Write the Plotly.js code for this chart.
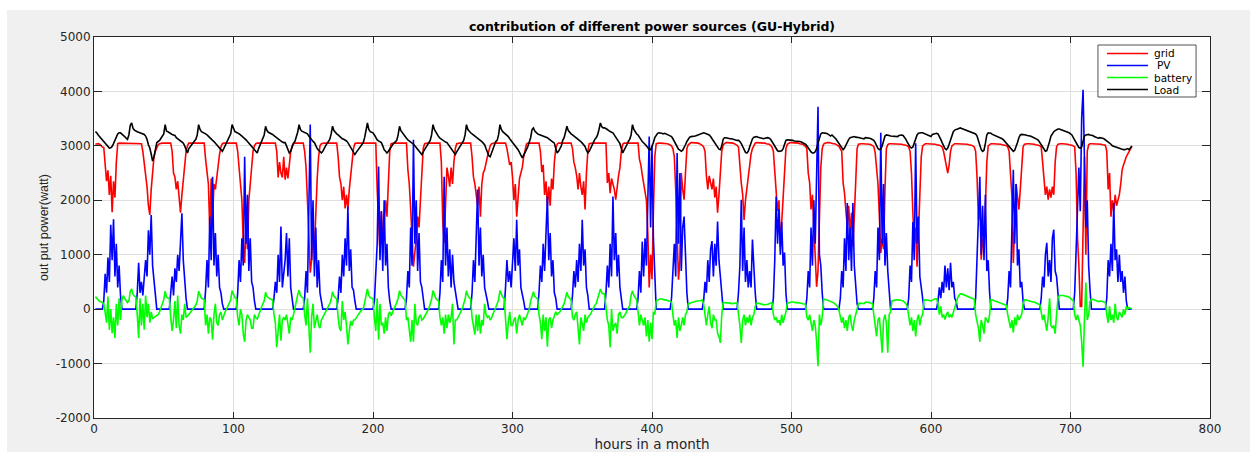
<!DOCTYPE html>
<html>
<head>
<meta charset="utf-8">
<script src="https://cdn.plot.ly/plotly-3.0.1.min.js"></script>
<style>
  html, body { margin: 0; padding: 0; background: #ffffff; }
  #chart { position: absolute; left: 7px; top: 10px; width: 1243px; height: 442px; }
</style>
</head>
<body>
<div id="chart"></div>
<script>
// ---- data (hourly values, hours 1..744) ----
const chartTitle = 'contribution of different power sources (GU-Hybrid)';
const xLabel = 'hours in a month';
const yLabel = 'out put power(watt)';
const seriesNames = ['grid', 'PV', 'battery', 'Load'];
const xTicks = [0, 100, 200, 300, 400, 500, 600, 700, 800];
const yTicks = [-2000, -1000, 0, 1000, 2000, 3000, 4000, 5000];

const gridPower = [
3030,3040,3040,3030,3000,2980,2970,2600,2350,2550,2100,2450,1780,2350,2050,2700,3040,3050,3050,3050,3050,3050,3050,3050,
3050,3050,3050,3050,3050,3050,3050,3050,3050,3040,2900,2700,2450,2250,1900,1730,2200,2600,2800,2900,2960,3020,3040,3050,
3050,3050,3050,3050,3050,3050,3050,2900,2500,2430,2200,2350,2000,1770,2100,2400,2700,2900,3000,3050,3050,3050,3050,3050,
3050,3050,3050,3050,3050,3050,3050,2750,2450,2300,1450,2400,1700,2300,2200,2450,2600,2850,2980,3040,3050,3050,3050,3050,
3050,3050,3050,3050,3050,3050,2900,2500,2300,2000,1200,850,1600,1100,2000,2300,2700,2900,3000,3040,3050,3050,3050,3050,
3050,3050,3050,3050,3050,3050,3050,3050,3050,3050,2900,2420,2700,2500,2420,2800,2380,2600,2400,2700,2900,3000,3040,3050,
3050,3050,3050,3050,3050,3050,2900,2600,2000,1200,670,900,1400,1100,1900,2400,2800,3000,3040,3050,3050,3050,3050,3050,
3050,3050,3050,3050,3050,3050,2800,2430,2300,2000,2250,1850,2100,1830,2200,2400,2700,2950,3040,3050,3050,3050,3050,3050,
3050,3050,3050,3050,3050,3050,3050,3050,3050,3050,2200,1500,1040,1800,1300,1600,2000,1700,2400,2900,3040,3050,3050,3050,
3050,3050,3050,3050,3050,3050,3050,3050,2560,2300,1840,1400,780,1040,1300,1700,1500,2000,2600,2950,3040,3050,3050,3050,
3050,3050,3050,3050,3050,3050,3050,3050,2700,1600,1220,2000,2600,2450,2250,2600,2300,2700,2950,3040,3050,3050,3050,3050,
3050,3050,3050,3050,3050,3050,2800,2430,2300,2100,1900,2250,1700,2300,2500,2560,2700,2800,2900,3000,3040,3050,3050,3050,
3050,3050,3050,3050,3050,3050,3050,2950,2750,2650,2700,2430,2000,2300,1700,2100,2400,2500,2600,2800,2950,3030,3050,3050,
3050,3050,3050,3050,3050,3050,3050,2900,2520,2650,2100,2350,1890,2250,1900,2400,2200,2700,2950,3030,3050,3050,3050,3050,
3050,3050,3050,3050,3050,3050,2950,2700,2600,2450,2200,2500,2250,2100,2350,1830,2500,2900,3040,3050,3050,3050,3050,3050,
3050,3050,3050,3050,3050,3050,3050,2320,2500,2130,2400,2300,2200,2010,2300,2450,2600,2900,3030,3050,3050,3050,3050,3050,
3050,3050,3050,3050,3050,3050,2750,2650,2470,2300,2200,2000,1400,400,1000,550,1800,2800,3040,3050,3050,3050,3050,3050,
3050,3050,3040,3030,3020,3000,2950,2800,2200,1150,540,900,2500,2200,2010,2500,2950,3020,3050,3060,3060,3060,3060,3050,
3050,3040,3030,3010,2980,2900,2450,2200,2450,2300,2200,2400,2050,2250,1770,2100,2500,2900,3020,3050,3060,3060,3060,3060,
3060,3050,3040,3030,3010,2980,2600,2320,2100,1640,2000,2200,2500,2700,2850,2950,3020,3050,3060,3060,3060,3060,3050,3050,
3050,3040,3040,3030,3010,2980,2900,2500,2200,1800,2000,1150,1600,2000,2600,2950,3030,3050,3060,3060,3060,3060,3050,3050,
3050,3040,3040,3030,3010,2990,2950,2500,2320,1830,2100,1500,780,410,700,1600,2600,2950,3030,3050,3060,3060,3060,3050,
3050,3040,3040,3030,3010,2990,2950,2900,2320,2130,1800,1520,1900,1400,1770,1150,1700,2400,2950,3030,3040,3040,3040,3040,
3040,3040,3030,3030,3020,3010,2990,2870,2620,2300,1700,1030,1300,1100,2200,2950,3020,3040,3040,3040,3040,3040,3040,3030,
3030,3030,3030,3020,3020,3010,3000,2980,2900,2500,1770,1200,1500,780,1400,2200,2800,3000,3030,3040,3040,3040,3040,3030,
3030,3030,3030,3020,3020,3010,3000,2980,2900,2750,2600,2500,2650,2900,3000,3030,3040,3040,3040,3040,3040,3030,3030,3030,
3030,3030,3020,3020,3010,3000,2980,2900,2430,1640,2000,910,1300,1100,1800,2700,3000,3030,3040,3040,3040,3040,3030,3030,
3030,3030,3020,3020,3010,3000,2980,2900,2560,2070,850,1500,2300,2070,1830,2200,2700,2980,3030,3040,3040,3040,3040,3030,
3030,3030,3020,3020,3010,3000,2980,2700,2380,2100,2250,2010,2200,2050,2250,2100,2700,2980,3030,3040,3040,3040,3040,3030,
3030,3030,3020,3020,3010,3000,2980,2500,1330,800,50,50,1600,2800,1000,2900,3020,3040,3040,3040,3040,3040,3030,3030,
3030,3030,3020,3020,3010,2900,2200,2500,1700,2000,1800,2100,1900,2000,2100,2300,2560,2650,2750,2800,2850,2900,2950,2990
];

const pvPower = [
0,0,0,0,0,0,150,650,300,950,500,1550,900,1650,600,1200,400,800,250,0,0,0,0,0,
0,0,0,0,0,0,300,850,300,500,250,650,900,600,1450,1000,1730,800,500,150,0,0,0,0,
0,0,0,0,0,0,300,600,250,750,500,1000,700,1400,1760,900,500,200,0,0,0,0,0,0,
0,0,0,0,0,0,0,350,900,400,1700,900,2430,800,1400,600,1000,400,300,100,0,0,0,0,
0,0,0,0,0,0,300,900,500,1300,800,2800,1200,2100,700,1300,500,400,150,0,0,0,0,0,
0,0,0,0,0,0,0,0,200,500,300,1000,500,1520,400,700,900,1400,600,1300,400,200,0,0,
0,0,0,0,0,0,200,700,300,1700,3390,900,2000,600,1500,400,900,300,100,0,0,0,0,0,
0,0,0,0,0,0,200,600,300,1000,600,1300,800,1880,700,1100,400,350,150,0,0,0,0,0,
0,0,0,0,0,0,0,0,150,600,1200,2620,900,1800,700,2000,800,1200,400,150,0,0,0,0,
0,0,0,0,0,0,0,200,700,400,1500,800,3110,1200,2000,700,1400,500,400,200,0,0,0,0,
0,0,0,0,0,0,0,300,900,500,2430,800,1500,600,1100,400,1000,500,300,100,0,0,0,0,
0,0,0,0,0,0,300,900,500,1300,2200,800,1500,600,1000,400,300,150,0,0,0,0,0,0,
0,0,0,0,0,0,400,900,500,700,400,900,1300,700,1640,800,1100,400,300,150,0,0,0,0,
0,0,0,0,0,0,300,800,500,1200,700,1500,2070,900,1400,600,900,300,200,0,0,0,0,0,
0,0,0,0,0,0,250,700,400,900,500,1200,700,1640,800,1100,400,250,0,0,0,0,0,0,
0,0,0,0,0,0,300,800,400,1200,600,2070,900,1400,600,1000,400,200,0,0,0,0,0,0,
0,0,0,0,0,200,700,300,1240,600,1300,800,2000,3170,1500,3000,1300,500,0,0,0,0,0,0,
0,0,0,0,0,200,700,1200,600,2870,1200,2500,700,1500,1700,800,300,0,0,0,0,0,0,0,
0,0,0,0,150,500,300,900,500,1100,1250,600,1200,800,1610,900,600,200,0,0,0,0,0,0,
0,0,0,0,0,300,800,2010,700,1500,500,900,400,700,400,1280,700,300,0,0,0,0,0,0,
0,0,0,0,0,0,200,900,2070,1200,1840,1000,1600,800,1040,300,0,0,0,0,0,0,0,0,
0,0,0,0,0,0,200,700,400,1500,800,2000,1200,2600,3720,1000,800,300,0,0,0,0,0,0,
0,0,0,0,0,0,200,700,400,1300,700,1950,900,1500,700,1950,800,400,100,0,0,0,0,0,
0,0,0,0,0,0,200,700,400,1500,900,3240,1200,2300,800,1400,700,300,0,0,0,0,0,0,
0,0,0,0,0,0,0,200,800,500,1600,900,3050,1200,1700,600,400,150,0,0,0,0,0,0,
0,0,0,0,150,400,200,500,300,800,400,750,350,850,400,500,200,150,0,0,0,0,0,0,
0,0,0,0,0,0,0,200,900,1500,2430,1000,1900,900,2100,700,900,300,0,0,0,0,0,0,
0,0,0,0,0,0,200,700,400,1600,2560,1200,2300,800,1100,400,500,150,0,0,0,0,0,0,
0,0,0,0,0,0,200,600,400,1000,1220,600,900,500,1300,1460,700,600,300,0,0,0,0,0,
0,0,0,0,0,0,300,1000,1600,2600,1800,3500,4030,2500,1500,2000,800,350,0,0,0,0,0,0,
0,0,0,0,0,200,900,600,1200,700,1950,900,1100,500,1000,500,700,300,600,150,0,0,0,0
];

const batteryPower = [
230,200,170,140,140,120,100,-60,-250,230,-380,0,-440,-150,-530,100,-300,200,-200,170,250,200,150,120,
150,330,370,270,240,220,-100,-530,200,-300,100,-380,250,-150,100,-250,-50,-180,-150,-130,-120,-100,-50,50,
100,170,330,220,210,190,-150,-400,-200,150,-350,250,-300,-450,-100,-200,100,-150,-130,-100,-60,-20,10,40,
80,150,330,250,200,190,170,-300,-100,-450,-150,-200,-560,-100,100,-250,-300,-100,-50,-200,-100,-50,0,60,
100,170,340,250,210,200,-150,-300,0,-100,-450,-600,-200,-100,-150,-200,-350,-350,-100,-160,-180,-100,-30,30,
100,150,310,230,200,190,180,170,-100,-250,-700,-300,-100,-580,-200,-150,-200,-100,-250,-450,-150,-200,-100,30,
200,260,350,250,220,210,-100,-300,200,-400,-800,-150,100,-350,-250,-100,-300,-350,-200,-150,-120,-50,-10,30,
100,180,320,240,200,180,-150,-350,-400,150,-200,-50,-300,-650,-400,-220,-300,-200,-200,-150,-120,-80,-40,-10,
0,100,250,370,250,210,200,190,-150,-400,200,-560,100,-300,-250,-450,-150,-400,-100,-50,-120,-60,-20,30,
120,200,340,260,210,190,170,-200,-150,-350,-600,-200,-600,100,-250,-300,-150,-100,-200,-180,-130,-80,-40,10,
100,180,340,250,200,170,150,-150,-300,-150,-450,-100,-350,-100,-250,-150,100,-650,-200,-200,-150,-90,-40,10,
100,180,340,250,210,190,-150,-350,-470,-100,-400,-100,-450,-200,-300,100,-100,-150,-120,-200,-160,-90,-10,30,
100,170,340,260,220,200,-200,-550,-250,-50,-300,-300,-200,-150,-450,-200,-100,-200,-300,-150,-200,-140,-60,0,
150,250,320,230,200,190,-100,-250,-550,-100,-400,-150,-690,-200,-150,-350,-200,-100,-50,-100,-80,-50,0,50,
100,200,310,230,190,170,-150,-200,-100,-50,-350,-650,-150,-300,-400,-100,-250,-150,-120,-90,-30,30,70,100,
200,280,370,300,280,280,-30,-200,-300,-700,0,-400,-300,-250,-450,-100,-50,-150,-160,-130,-90,-30,30,70,
250,340,250,200,170,-50,-300,-100,-200,-300,-150,-500,-200,-600,-250,-550,-50,-100,150,170,180,190,180,170,
170,170,160,150,140,130,-100,-300,-200,-530,-150,-400,-300,-150,-300,-100,-50,100,110,120,120,130,140,150,
150,150,160,170,100,-100,-300,-100,50,-250,-350,-100,-200,-200,-450,-500,-620,-100,120,120,120,110,110,110,
100,100,110,110,120,-50,-300,-620,-200,-100,-300,-150,-250,-100,-300,-150,-100,50,110,110,100,90,80,80,
80,80,90,100,110,120,-100,-200,-150,-250,-200,-300,-100,-250,-150,-50,110,120,130,130,130,120,120,120,
120,120,110,100,100,90,-150,-200,-100,-300,-400,-200,-300,-600,-1050,-100,-300,-150,180,180,170,160,150,140,
140,120,100,80,50,-20,-150,-250,-150,-350,-200,-400,-150,-100,-300,-400,-200,-100,-50,100,110,110,100,100,
130,130,120,120,110,100,-100,-300,-500,-200,-150,-450,-800,-200,-100,-250,-800,-100,-50,150,160,160,170,170,
170,170,160,150,130,100,50,-100,-300,-150,-400,-200,-500,-200,-100,-300,-150,-100,170,170,170,170,160,150,
170,180,190,190,100,-100,50,-150,-100,-190,-100,-50,-150,-100,-150,-50,0,100,200,250,280,280,270,260,
250,240,230,220,210,200,180,-100,-200,-350,-600,-200,-300,-450,-150,-200,-250,-100,180,170,160,150,140,130,
120,110,100,90,80,70,-100,-200,-350,-200,-430,-150,-300,-100,-200,-150,-100,100,170,170,160,160,150,140,
130,130,120,110,100,80,-50,-200,-100,-250,-400,-150,200,-300,-350,-300,-450,-100,200,250,250,260,250,240,
240,230,220,200,180,150,-100,-200,-100,-200,-300,-600,-1060,-200,490,-200,-100,150,180,180,170,160,150,140,
150,150,140,130,120,-100,-250,50,-200,-100,-250,100,-150,-200,-50,-100,-150,0,-100,50,0,30,10,0
];

const loadPower = [
3260,3240,3200,3170,3140,3100,3070,3040,3000,2970,2960,2965,2990,3040,3090,3160,3220,3240,3240,3220,3190,3170,3140,3120,
3200,3380,3420,3320,3290,3270,3260,3250,3240,3230,3220,3210,3180,3120,3020,2960,2850,2720,2800,2950,3060,3080,3100,3140,
3170,3220,3390,3270,3260,3240,3230,3210,3200,3190,3150,3130,3110,3090,3070,3050,3000,2920,2870,2950,2990,3030,3060,3090,
3120,3200,3390,3300,3260,3250,3240,3220,3200,3170,3150,3120,3100,3080,3050,3020,2980,2950,2920,2900,2950,3000,3050,3100,
3150,3220,3390,3300,3260,3250,3240,3220,3200,3180,3160,3140,3110,3080,3050,3020,2990,2950,2910,2880,2870,2950,3020,3080,
3150,3200,3360,3280,3250,3240,3230,3210,3190,3170,3150,3120,3100,3080,3070,3060,3060,3000,2930,2870,2900,3000,3050,3080,
3150,3250,3390,3300,3270,3260,3250,3240,3220,3180,3140,3110,3080,3060,3000,2950,2920,2890,2870,2900,2960,3000,3040,3080,
3120,3220,3360,3280,3240,3220,3200,3170,3150,3130,3120,3110,3090,3060,3020,2980,2930,2880,2840,2880,2920,2960,3000,3030,
3060,3150,3300,3420,3300,3260,3250,3240,3200,3150,3110,3090,3070,3060,3000,2930,2900,2870,2900,2930,2980,3020,3050,3080,
3100,3200,3360,3280,3240,3200,3170,3140,3110,3090,3080,3060,3030,3000,2970,2940,2900,2870,2840,2890,2930,2980,3020,3060,
3100,3200,3390,3300,3250,3200,3170,3140,3120,3100,3080,3070,3060,3020,2980,2940,2900,2860,2840,2890,2930,2980,3020,3060,
3100,3200,3390,3300,3260,3240,3220,3200,3190,3170,3150,3130,3110,3080,3050,3020,2950,2880,2820,2800,2880,2960,3040,3080,
3100,3200,3390,3300,3260,3240,3220,3190,3170,3130,3100,3070,3040,3000,2960,2930,2880,2820,2780,2830,2870,2930,2990,3060,
3150,3300,3330,3270,3240,3220,3210,3200,3190,3180,3170,3170,3150,3130,3110,3090,3070,3050,2950,2870,2900,2950,3000,3100,
3150,3250,3360,3280,3240,3220,3200,3180,3160,3140,3120,3110,3080,3050,3020,2990,2920,2870,2900,2960,3020,3080,3120,3150,
3200,3300,3420,3350,3330,3330,3320,3300,3280,3260,3250,3240,3200,3160,3120,3080,3040,2950,2870,2920,2960,3020,3080,3120,
3200,3390,3300,3250,3220,3200,3170,3120,3080,3060,3030,3000,2960,2930,2930,2980,3060,3150,3200,3230,3240,3240,3230,3220,
3230,3220,3210,3200,3180,3170,3130,3080,3030,2980,2940,2920,2900,2920,2960,3020,3080,3130,3160,3170,3170,3180,3180,3190,
3200,3210,3220,3230,3240,3230,3220,3210,3200,3170,3130,3100,3060,3000,2960,2940,2930,3000,3120,3150,3150,3140,3140,3130,
3130,3120,3120,3110,3100,3100,3080,3040,2980,2920,2880,2870,2900,2980,3060,3130,3160,3170,3170,3160,3150,3140,3130,3130,
3140,3150,3150,3140,3120,3080,3040,2990,2940,2910,2900,2900,2910,2950,3030,3100,3110,3110,3110,3100,3100,3090,3090,3080,
3080,3080,3070,3060,3050,3030,3000,2960,2920,2890,2870,2870,2890,2950,3050,3150,3220,3240,3240,3240,3230,3220,3200,3180,
3200,3180,3150,3120,3080,3040,2990,2950,2930,2960,3020,3080,3120,3150,3160,3170,3170,3160,3160,3150,3150,3140,3140,3130,
3150,3150,3140,3140,3130,3120,3100,3060,3000,2950,2930,2940,3000,3100,3180,3200,3200,3190,3180,3180,3170,3170,3170,3170,
3190,3200,3200,3190,3160,3120,3070,3020,2980,2960,2980,3050,3130,3200,3230,3240,3240,3240,3230,3220,3210,3200,3180,3170,
3210,3220,3230,3230,3220,3180,3120,3060,3000,2950,2930,2960,3030,3120,3200,3260,3290,3300,3310,3320,3330,3320,3310,3300,
3300,3290,3280,3270,3260,3250,3240,3220,3180,3100,3000,2930,2900,2920,3050,3200,3240,3240,3230,3210,3200,3190,3180,3170,
3160,3150,3130,3110,3080,3050,3010,2980,2950,2920,2900,2920,2980,3060,3150,3200,3210,3210,3200,3200,3190,3190,3180,3170,
3160,3150,3140,3120,3100,3060,3010,2960,2920,2900,2910,2980,3080,3180,3230,3260,3280,3300,3310,3310,3300,3300,3290,3280,
3270,3260,3240,3220,3200,3150,3100,3040,3000,2970,2960,2980,3080,3180,3200,3210,3210,3200,3200,3190,3170,3160,3150,3140,
3150,3150,3140,3130,3110,3090,3070,3060,3030,3000,2990,2990,2980,2970,2960,2950,2940,2930,2930,2940,2950,2930,2960,3000
];

const seriesColors = ['#ff0000', '#0000ff', '#00ff00', '#000000'];

// hour index 1..N
const hours = gridPower.map((_, i) => i + 1);
const seriesValues = [gridPower, pvPower, batteryPower, loadPower];

const traces = seriesValues.map((vals, k) => ({
  type: 'scatter',
  mode: 'lines',
  name: seriesNames[k],
  x: hours,
  y: vals,
  line: { color: seriesColors[k], width: 1.6 },
  showlegend: false,
  hoverinfo: 'x+y+name'
}));

// manual MATLAB-style legend (box, line samples, labels) in paper coords
const legX0 = 0.8996, legX1 = 0.9875, legY0 = 0.8425, legY1 = 0.979;
const legLineX0 = 0.9077, legLineX1 = 0.9444, legTextX = 0.9480;
const legRowY = [0.9567, 0.9252, 0.8937, 0.8622];

const shapes = [{
  type: 'rect', xref: 'paper', yref: 'paper',
  x0: legX0, x1: legX1, y0: legY0, y1: legY1,
  fillcolor: '#ffffff', line: { color: '#262626', width: 0.8 }, layer: 'above'
}];
const annotations = [];
seriesNames.forEach((nm, k) => {
  shapes.push({
    type: 'line', xref: 'paper', yref: 'paper',
    x0: legLineX0, x1: legLineX1, y0: legRowY[k], y1: legRowY[k],
    line: { color: seriesColors[k], width: 1.6 }, layer: 'above'
  });
  annotations.push({
    xref: 'paper', yref: 'paper', x: legTextX + (nm === 'PV' ? 0.003 : 0), y: legRowY[k],
    xanchor: 'left', yanchor: 'middle', showarrow: false, text: nm,
    font: { family: 'DejaVu Sans, sans-serif', size: 10.5, color: '#000000' }
  });
});

const axisCommon = {
  showgrid: true, gridcolor: '#dfdfdf', gridwidth: 1,
  zeroline: false, showline: true, linecolor: '#262626', linewidth: 1,
  mirror: 'ticks', ticks: 'inside', tickcolor: '#262626', tickwidth: 1,
  tickfont: { family: 'DejaVu Sans, sans-serif', size: 12, color: '#262626' }
};

const layout = {
  width: 1243, height: 442,
  margin: { l: 87, r: 40, t: 27, b: 34, pad: 0 },
  paper_bgcolor: '#f0f0f0',
  plot_bgcolor: '#ffffff',
  font: { family: 'DejaVu Sans, sans-serif', size: 12, color: '#262626' },
  title: {
    text: chartTitle,
    font: { family: 'DejaVu Sans, sans-serif', size: 12.5, color: '#000000', weight: 700 },
    x: 0.5, xref: 'paper', xanchor: 'center',
    y: 0.9615, yref: 'container', yanchor: 'middle'
  },
  xaxis: Object.assign({}, axisCommon, {
    range: [0, 800], tickvals: xTicks, ticktext: xTicks.map(String), ticklen: 6,
    title: { text: xLabel, font: { family: 'DejaVu Sans, sans-serif', size: 13.5, color: '#262626' }, standoff: 3 }
  }),
  yaxis: Object.assign({}, axisCommon, {
    range: [-2000, 5000], tickvals: yTicks, ticktext: yTicks.map(String), ticklen: 8,
    title: { text: yLabel, font: { family: 'Liberation Sans, Arial, sans-serif', size: 12.5, color: '#262626' }, standoff: 4 }
  }),
  shapes: shapes,
  annotations: annotations,
  showlegend: false
};

Plotly.newPlot('chart', traces, layout, { displayModeBar: false, staticPlot: true });
</script>
</body>
</html>
